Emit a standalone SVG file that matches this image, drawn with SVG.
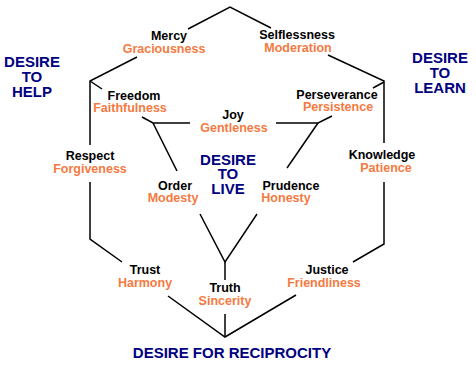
<svg xmlns="http://www.w3.org/2000/svg" width="476" height="375" viewBox="0 0 476 375">
<style>
text{font-family:"Liberation Sans",Arial,sans-serif;font-weight:bold;text-anchor:middle}
.k{fill:#000;font-size:12.5px}
.o{fill:#F47A42;font-size:12.5px}
.d{fill:#000080;font-size:15px}
.c line,.c polyline{stroke:#000;stroke-width:1.5;fill:none}
</style>
<rect width="476" height="375" fill="#fff"/>
<g class="c" id="connectors">
<polyline points="188,29 230,7 271,28"/>
<polyline points="137,57 90,81 90,145"/>
<line x1="90" y1="81" x2="102" y2="89"/>
<polyline points="90,182 90,239 122,262"/>
<polyline points="168,296 225,337 296,295"/>
<line x1="225" y1="314" x2="225" y2="337"/>
<polyline points="353,262 384,244 384,182"/>
<polyline points="384,143 384,81 328,55"/>
<line x1="384" y1="82" x2="373" y2="88"/>
<polyline points="142,117 153,123 190,123"/>
<line x1="153" y1="123" x2="177" y2="171"/>
<polyline points="332,116 318,123 276,123"/>
<line x1="318" y1="123" x2="287" y2="168"/>
<polyline points="200,214 225,262 257,214"/>
<line x1="225" y1="262" x2="225" y2="280"/>
</g>
<g id="desire-help"><text class="d" x="32" y="67">DESIRE</text><text class="d" x="32" y="82">TO</text><text class="d" x="32" y="97">HELP</text></g>
<g id="desire-learn"><text class="d" x="440" y="63">DESIRE</text><text class="d" x="440" y="78">TO</text><text class="d" x="440" y="93">LEARN</text></g>
<g id="desire-live"><text class="d" x="228" y="165">DESIRE</text><text class="d" x="228" y="179">TO</text><text class="d" x="228" y="194">LIVE</text></g>
<g id="desire-reciprocity"><text class="d" x="232" y="358">DESIRE FOR RECIPROCITY</text></g>
<g id="mercy"><text class="k" x="169" y="40">Mercy</text><text class="o" x="164" y="53">Graciousness</text></g>
<g id="selflessness"><text class="k" x="297" y="39">Selflessness</text><text class="o" x="298" y="52">Moderation</text></g>
<g id="freedom"><text class="k" x="134" y="100">Freedom</text><text class="o" x="130" y="112">Faithfulness</text></g>
<g id="joy"><text class="k" x="233" y="119">Joy</text><text class="o" x="234" y="132">Gentleness</text></g>
<g id="perseverance"><text class="k" x="337" y="99">Perseverance</text><text class="o" x="338" y="111">Persistence</text></g>
<g id="respect"><text class="k" x="90" y="160">Respect</text><text class="o" x="90" y="173">Forgiveness</text></g>
<g id="knowledge"><text class="k" x="382" y="159">Knowledge</text><text class="o" x="386" y="172">Patience</text></g>
<g id="order"><text class="k" x="175" y="190">Order</text><text class="o" x="173" y="202">Modesty</text></g>
<g id="prudence"><text class="k" x="291" y="190">Prudence</text><text class="o" x="286" y="202">Honesty</text></g>
<g id="trust"><text class="k" x="145" y="274">Trust</text><text class="o" x="145" y="287">Harmony</text></g>
<g id="truth"><text class="k" x="225" y="292">Truth</text><text class="o" x="225" y="305">Sincerity</text></g>
<g id="justice"><text class="k" x="327" y="274">Justice</text><text class="o" x="324" y="287">Friendliness</text></g>
</svg>
